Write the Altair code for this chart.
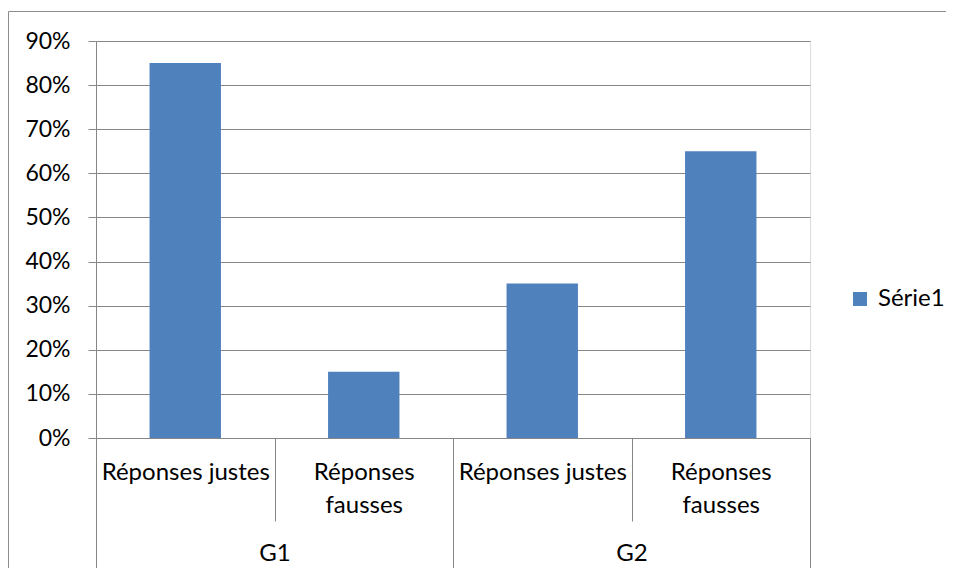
import altair as alt
import pandas as pd

groups = ["G1", "G1", "G2", "G2"]
answers = ["Réponses justes", "Réponses fausses", "Réponses justes", "Réponses fausses"]
answer_lines = [["Réponses justes"], ["Réponses", "fausses"], ["Réponses justes"], ["Réponses", "fausses"]]
values = [0.85, 0.15, 0.35, 0.65]
series = ["Série1", "Série1", "Série1", "Série1"]
y_ticks = [0.0, 0.1, 0.2, 0.3, 0.4, 0.5, 0.6, 0.7, 0.8, 0.9]

df = pd.DataFrame({
    "group": groups,
    "answer": answers,
    "value": values,
    "series": series,
    "key": [g + "|" + "~".join(l) for g, l in zip(groups, answer_lines)],
})

GRAY = "#868686"
BORDER = "#8c8c8c"
FONT = "Lato"
BLUE = "#4F81BD"
FS = 24
FSY = 23

y_enc = alt.Y(
    "value:Q",
    scale=alt.Scale(domain=[0, 0.9], nice=False, zero=True),
    axis=alt.Axis(
        values=y_ticks, format=".0%", title=None, grid=True, gridColor=GRAY,
        gridWidth=1, tickSize=8, tickColor=GRAY, domainColor=GRAY,
        labelPadding=18, labelFont=FONT, labelFontSize=FSY, labelColor="black",
    ),
)

bars = alt.Chart(df).mark_bar(width=alt.RelativeBandSize(0.4), color=BLUE).encode(
    x=alt.X(
        "key:N", sort=None,
        scale=alt.Scale(paddingInner=0, paddingOuter=0),
        axis=alt.Axis(
            title=None, orient="bottom", labelAngle=0, tickBand="extent",
            tickSize=83, tickColor=GRAY, tickWidth=1, domainColor=GRAY,
            labelExpr="indexof(datum.label + '', '|') >= 0 ? split(split(datum.label, '|')[1], '~') : ''",
            labelPadding=-61, labelBaseline="top", labelLineHeight=33,
            labelFontSize=FS, labelFont=FONT, labelColor="black",
            labelLimit=0, labelOverlap=False, labelBound=False,
        ),
    ),
    y=y_enc,
    color=alt.Color(
        "series:N",
        scale=alt.Scale(range=[BLUE]),
        legend=alt.Legend(
            title=None, orient="none", legendX=752, legendY=246,
            symbolType="square", symbolSize=196, symbolStrokeWidth=0,
            labelFontSize=FS, labelFont=FONT, labelColor="black",
            padding=0, labelOffset=6,
        ),
    ),
)

group_axis = alt.Chart(df).mark_rule(opacity=0).encode(
    x=alt.X(
        "group:N", sort=None,
        scale=alt.Scale(type="band", paddingInner=0, paddingOuter=0),
        axis=alt.Axis(
            title=None, orient="bottom", labelAngle=0, tickBand="extent",
            tickSize=140, tickColor=GRAY, tickWidth=1, domain=False,
            labelPadding=-37, labelBaseline="top",
            labelFontSize=FS, labelFont=FONT, labelColor="black",
            labelOverlap=False, labelBound=False,
        ),
    ),
)

border = alt.Chart(pd.DataFrame({"a": [0]})).mark_rect(
    fillOpacity=0, stroke=BORDER, strokeWidth=1
).encode(
    x=alt.value(-87.5), x2=alt.value(2000), y=alt.value(-29.5), y2=alt.value(2000)
)

chart = alt.layer(border, bars, group_axis).resolve_scale(x="independent").properties(
    width=714, height=397,
    autosize=alt.AutoSizeParams(type="none"),
    padding={"left": 88, "top": 33, "right": 136, "bottom": 130},
).configure_view(strokeWidth=0).configure(background="white")

chart.save("out.html", embed_options={"renderer": "svg", "actions": False})
